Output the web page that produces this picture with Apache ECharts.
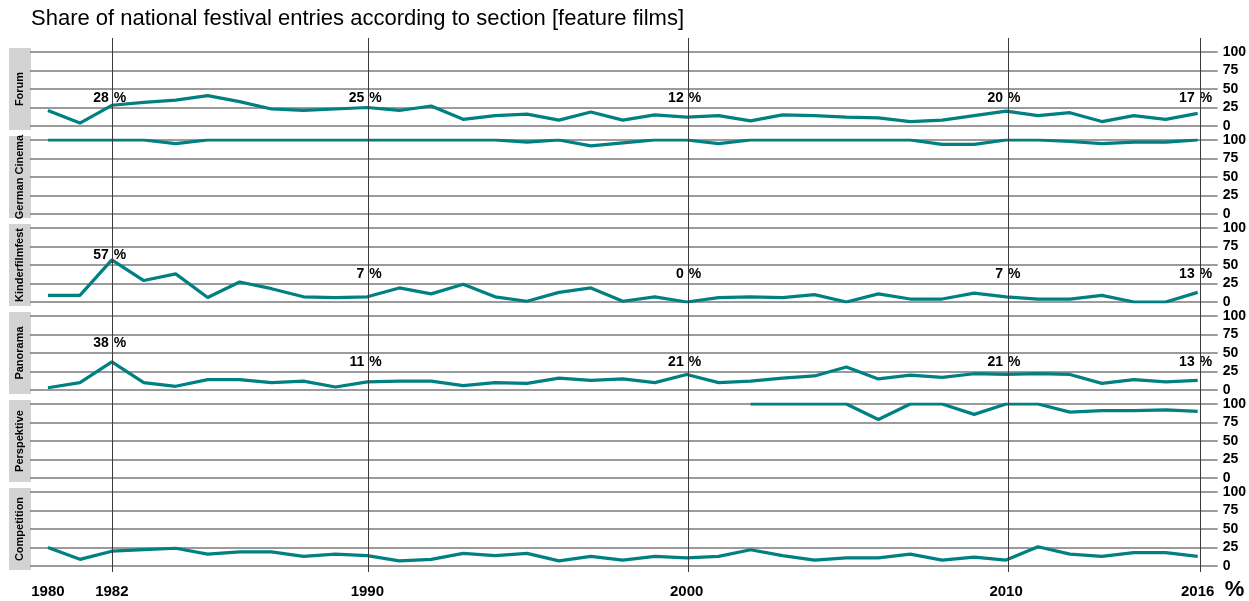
<!DOCTYPE html>
<html lang="en">
<head>
<meta charset="UTF-8">
<title>festival sections</title>
<style>html,body{margin:0;padding:0;background:#fff}</style>
</head>
<body>
<div id="chart" style="width: 1249px;height: 601px"></div>
<script src="https://cdn.jsdelivr.net/npm/echarts@6/dist/echarts.min.js"></script>
<script>
const years = [1980, 1981, 1982, 1983, 1984, 1985, 1986, 1987, 1988, 1989,
    1990, 1991, 1992, 1993, 1994, 1995, 1996, 1997, 1998, 1999,
    2000, 2001, 2002, 2003, 2004, 2005, 2006, 2007, 2008, 2009,
    2010, 2011, 2012, 2013, 2014, 2015, 2016];
const sections = ['Forum', 'German Cinema', 'Kinderfilmfest', 'Panorama', 'Perspektive', 'Competition'];

// share of national entries (%) per year
const forum = [21, 4, 28, 32, 35, 41, 33, 23, 21, 23,
    25, 21, 27, 9, 14, 16, 8, 19, 8, 15,
    12, 14, 7, 15, 14, 12, 11, 6, 8, 14,
    20, 14, 18, 6, 14, 9, 17];
const germanCinema = [100, 100, 100, 100, 95, 100, 100, 100, 100, 100,
    100, 100, 100, 100, 100, 97, 100, 92, 96, 100,
    100, 95, 100, 100, 100, 100, 100, 100, 94, 94,
    100, 100, 98, 95, 97, 97, 100];
const kinderfilmfest = [9, 9, 57, 29, 38, 6, 27, 18, 7, 6,
    7, 19, 11, 24, 7, 1, 13, 19, 1, 7,
    0, 6, 7, 6, 10, 0, 11, 4, 4, 12,
    7, 4, 4, 9, 0, 0, 13];
const panorama = [3, 10, 38, 10, 5, 14, 14, 10, 12, 4,
    11, 12, 12, 6, 10, 9, 16, 13, 15, 10,
    21, 10, 12, 16, 19, 31, 15, 20, 17, 22,
    21, 22, 21, 9, 14, 11, 13];
const perspektive = [null, null, null, null, null, null, null, null, null, null,
    null, null, null, null, null, null, null, null, null, null,
    null, null, 100, 100, 100, 100, 79, 100, 100, 86,
    100, 100, 89, 91, 91, 92, 90];
const competition = [25, 9, 20, 22, 24, 16, 19, 19, 13, 16,
    14, 7, 9, 17, 14, 17, 7, 13, 8, 13,
    11, 13, 22, 14, 8, 11, 11, 16, 8, 12,
    8, 26, 16, 13, 18, 18, 13];

const values = [forum, germanCinema, kinderfilmfest, panorama, perspektive, competition];
const markYears = [1982, 1990, 2000, 2010, 2016];
const xTicks = [1980, 1982, 1990, 2000, 2010, 2016];
const labelled = ['Forum', 'Kinderfilmfest', 'Panorama'];

const font = 'Liberation Sans, Arial, sans-serif';
const teal = '#008080';
const left = 30, width = 1190, top0 = 52, step = 88, panelH = 74;
const xMin = 1979.4375, xMax = 2016.625;
const labelLevel = v => v > 30 ? 63 : 37;

const grids = [], xAxes = [], yAxes = [], series = [], graphics = [];

sections.forEach((name, i) => {
    const top = top0 + i * step;
    const last = i === sections.length - 1;
    grids.push({left: left, width: width, top: top, height: panelH});
    xAxes.push({
        type: 'value', gridIndex: i, min: xMin, max: xMax,
        axisLine: {show: false}, axisTick: {show: false}, splitLine: {show: false},
        axisLabel: last ? {
            show: true, customValues: xTicks, margin: 18, formatter: v => String(v),
            fontFamily: font, fontSize: 15, fontWeight: 'bold', color: '#000'
        } : {show: false},
        name: last ? '%' : '',
        nameLocation: 'end', nameGap: 7,
        nameTextStyle: {fontFamily: font, fontSize: 22, fontWeight: 'bold', color: '#000',
            align: 'left', verticalAlign: 'top', padding: [13, 0, 0, 0]}
    });
    yAxes.push({
        type: 'value', gridIndex: i, position: 'right', min: 0, max: 100, interval: 25,
        axisLine: {show: false}, axisTick: {show: false},
        splitLine: {show: true, lineStyle: {color: '#7a7a7a', width: 1.6}},
        axisLabel: {margin: 5, fontFamily: font, fontSize: 14, fontWeight: 'bold', color: '#000', padding: [4, 0, 0, 0]}
    });
    series.push({
        type: 'line', xAxisIndex: i, yAxisIndex: i, z: 3, silent: true,
        showSymbol: false,
        data: years.map((y, j) => [y, values[i][j]]),
        lineStyle: {color: teal, width: 3.2},
        itemStyle: {color: teal}
    });
    if (labelled.includes(name)) {
        const pts = markYears.map(y => {
            const v = values[i][years.indexOf(y)];
            return [y, labelLevel(v), v];
        });
        const txt = {show: true, position: 'top', distance: 0, verticalAlign: 'middle',
            fontFamily: font, fontSize: 14, fontWeight: 'bold', color: '#000',
            textBorderWidth: 0, opacity: 1};
        series.push({
            type: 'scatter', xAxisIndex: i, yAxisIndex: i, z: 4, silent: true,
            symbolSize: 1, itemStyle: {color: '#fff', opacity: 0}, data: pts,
            label: Object.assign({}, txt, {align: 'right', offset: [-3, 0], formatter: p => Math.round(p.value[2])})
        });
        series.push({
            type: 'scatter', xAxisIndex: i, yAxisIndex: i, z: 4, silent: true,
            symbolSize: 1, itemStyle: {color: '#fff', opacity: 0}, data: pts,
            label: Object.assign({}, txt, {align: 'left', offset: [2, 0], formatter: '%'})
        });
    }
    // strip on the left
    graphics.push({type: 'rect', left: 9, top: top - 4, silent: true,
        shape: {width: 22, height: 82}, style: {fill: '#d3d3d3'}});
    graphics.push({type: 'text', x: 20, y: top + 37, rotation: Math.PI / 2, silent: true,
        style: {text: name, fill: '#000', font: 'bold 11px Liberation Sans, Arial, sans-serif',
            align: 'center', verticalAlign: 'middle'}});
});

// overlay for the vertical year lines across all panels
const ov = sections.length;
grids.push({left: left, width: width, top: 38, height: 534});
xAxes.push({type: 'value', gridIndex: ov, min: xMin, max: xMax, show: false});
yAxes.push({type: 'value', gridIndex: ov, min: 0, max: 1, show: false});
series.push({
    type: 'line', xAxisIndex: ov, yAxisIndex: ov, z: 2, silent: true, data: [],
    markLine: {
        silent: true, symbol: 'none', animation: false,
        label: {show: false},
        lineStyle: {color: '#3a3a3a', width: 1, type: 'solid'},
        data: markYears.map(y => ({xAxis: y}))
    }
});

const chart = echarts.init(document.getElementById('chart'));
chart.setOption({
    animation: false,
    backgroundColor: '#fff',
    title: {
        text: 'Share of national festival entries according to section [feature films]',
        left: 31, top: 8, padding: 0,
        textStyle: {fontFamily: font, fontSize: 22, fontWeight: 'normal', color: '#000'}
    },
    grid: grids,
    xAxis: xAxes,
    yAxis: yAxes,
    series: series,
    graphic: graphics
});
</script>
</body>
</html>
